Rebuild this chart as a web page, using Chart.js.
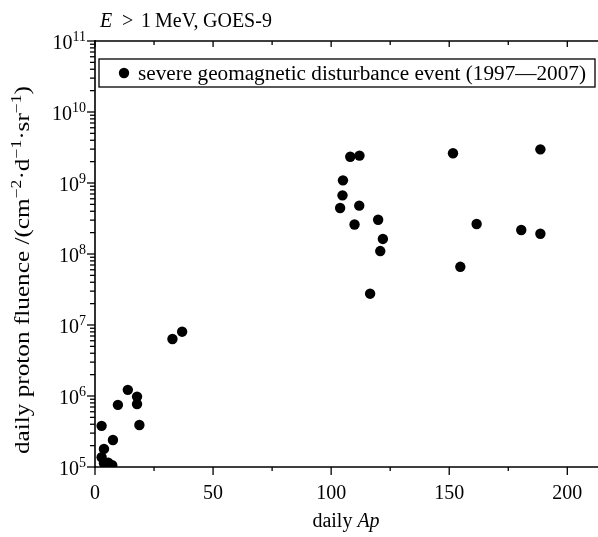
<!DOCTYPE html>
<html>
<head>
<meta charset="utf-8">
<script src="https://cdn.jsdelivr.net/npm/chart.js@4.4.1/dist/chart.umd.min.js"></script>
<style>
  html, body { margin: 0; padding: 0; background: #fff; }
  #wrap { width: 598px; height: 537px; }
</style>
</head>
<body>
<div id="wrap"><canvas id="fluenceChart" width="598" height="537"></canvas></div>
<script>
// daily Ap vs daily proton fluence, E > 1 MeV, GOES-9
const apValues = [2.8, 3.8, 5.6, 7.3, 3.8, 7.6, 2.8, 18.8, 9.7, 17.8, 17.8, 13.9,
    32.8, 36.9,
    103.8, 104.8, 105.0, 108.1, 112.0, 111.9, 109.9, 116.5, 119.9, 120.8, 121.9,
    151.6, 154.7, 161.6, 180.5, 188.6, 188.6];
const fluenceValues = [1.37e5, 1.13e5, 1.15e5, 1.06e5, 1.8e5, 2.4e5, 3.8e5, 3.9e5, 7.5e5, 7.7e5, 9.8e5, 1.22e6,
    6.35e6, 8.05e6,
    4.45e8, 6.7e8, 1.09e9, 2.34e9, 2.43e9, 4.8e8, 2.6e8, 2.76e7, 3.04e8, 1.1e8, 1.63e8,
    2.62e9, 6.6e7, 2.65e8, 2.18e8, 2.98e9, 1.93e8];
const xTickValues = [0, 50, 100, 150, 200];
const yExponents = [5, 6, 7, 8, 9, 10, 11];
const seriesLabel = 'severe geomagnetic disturbance event (1997\u20142007)';

const FONT = '"Liberation Serif", "Times New Roman", serif';

// draw a run of text pieces (some italic / superscript) from x, y (baseline)
function richWidth(ctx, parts, size) {
    let w = 0;
    parts.forEach(p => {
        ctx.font = (p.italic ? 'italic ' : '') + (p.sup ? size * 0.7 : size) + 'px ' + FONT;
        w += ctx.measureText(p.t).width;
    });
    return w;
}
function drawRich(ctx, parts, x, y, size) {
    parts.forEach(p => {
        ctx.font = (p.italic ? 'italic ' : '') + (p.sup ? size * 0.7 : size) + 'px ' + FONT;
        ctx.fillText(p.t, x, p.sup ? y - size * 0.42 : y);
        x += ctx.measureText(p.t).width;
    });
}

const frame = {
    id: 'frame',
    afterDatasetsDraw(chart) {
        const { ctx, chartArea: a, scales: { x, y } } = chart;
        ctx.save();
        ctx.strokeStyle = '#000';
        ctx.fillStyle = '#000';
        ctx.textAlign = 'left';
        ctx.textBaseline = 'alphabetic';

        // axis lines
        ctx.lineWidth = 1.6;
        ctx.beginPath();
        ctx.moveTo(a.left, a.top); ctx.lineTo(a.right, a.top);
        ctx.moveTo(a.left, a.top - 1); ctx.lineTo(a.left, a.bottom + 1);
        ctx.moveTo(a.left, a.bottom); ctx.lineTo(a.right, a.bottom);
        ctx.stroke();

        // x ticks (every 25, labels every 50)
        ctx.lineWidth = 1.3;
        for (let v = 0; v <= x.max; v += 25) {
            const px = x.getPixelForValue(v);
            const major = v % 50 === 0;
            ctx.beginPath();
            ctx.moveTo(px, a.bottom); ctx.lineTo(px, a.bottom + (major ? 8 : 4));
            ctx.moveTo(px, a.top); ctx.lineTo(px, a.top + (major ? 6 : 4));
            ctx.stroke();
        }
        ctx.font = '20px ' + FONT;
        ctx.textAlign = 'center';
        xTickValues.forEach(v => ctx.fillText(String(v), x.getPixelForValue(v), a.bottom + 32));

        // y ticks (decades + minor)
        yExponents.forEach(n => {
            for (let m = 1; m <= 9; m++) {
                const val = m * Math.pow(10, n);
                if (val > y.max) break;
                const py = y.getPixelForValue(val);
                ctx.beginPath();
                ctx.moveTo(a.left, py); ctx.lineTo(a.left - (m === 1 ? 8 : 5), py);
                ctx.stroke();
            }
        });
        ctx.textAlign = 'left';
        yExponents.forEach(n => {
            const py = y.getPixelForValue(Math.pow(10, n));
            const parts = [{ t: '10' }, { t: String(n), sup: true }];
            const w = richWidth(ctx, parts, 20);
            drawRich(ctx, parts, 86 - w, py + 8, 20);
        });

        // title
        drawRich(ctx, [{ t: 'E', italic: true }], 100, 27, 20);
        drawRich(ctx, [{ t: '>' }], 122, 27, 20);
        drawRich(ctx, [{ t: '1' }], 141, 27, 20);
        drawRich(ctx, [{ t: 'MeV,' }], 155, 27, 20);
        drawRich(ctx, [{ t: 'GOES-9' }], 203, 27, 20);

        // legend box
        ctx.lineWidth = 1.3;
        ctx.fillStyle = '#fff';
        ctx.fillRect(99, 59, 496, 28);
        ctx.strokeRect(99, 59, 496, 28);
        ctx.fillStyle = '#000';
        ctx.beginPath();
        ctx.arc(124, 73, 5.2, 0, Math.PI * 2);
        ctx.fill();
        ctx.font = '20px ' + FONT;
        const lw = ctx.measureText(seriesLabel).width;
        ctx.save();
        ctx.translate(138, 80);
        ctx.scale(448 / lw, 1);
        ctx.fillText(seriesLabel, 0, 0);
        ctx.restore();

        // x axis title
        const xParts = [{ t: 'daily ' }, { t: 'Ap', italic: true }];
        const xw = richWidth(ctx, xParts, 20);
        drawRich(ctx, xParts, 346 - xw / 2, 527, 20);

        // y axis title
        const yParts = [{ t: 'daily proton fluence /(cm' }, { t: '\u22122', sup: true }, { t: '\u00b7d' },
            { t: '\u22121', sup: true }, { t: '\u00b7sr' }, { t: '\u22121', sup: true }, { t: ')' }];
        const yw = richWidth(ctx, yParts, 20);
        ctx.save();
        ctx.translate(29, 270);
        ctx.rotate(-Math.PI / 2);
        ctx.scale(368 / yw, 1);
        drawRich(ctx, yParts, -yw / 2, 0, 20);
        ctx.restore();

        ctx.restore();
    }
};

const ctx = document.getElementById('fluenceChart').getContext('2d');
new Chart(ctx, {
    type: 'scatter',
    data: {
        datasets: [{
            label: seriesLabel,
            data: apValues.map((v, i) => ({ x: v, y: fluenceValues[i] })),
            backgroundColor: '#000',
            borderWidth: 0,
            pointRadius: 5.2,
            clip: 0
        }]
    },
    options: {
        responsive: false,
        animation: false,
        layout: { autoPadding: false, padding: { left: 95, top: 41, right: 0, bottom: 70 } },
        scales: {
            x: { type: 'linear', min: 0, max: 213, display: false },
            y: { type: 'logarithmic', min: 1e5, max: 1e11, display: false }
        },
        plugins: {
            legend: { display: false },
            tooltip: { enabled: false }
        }
    },
    plugins: [frame]
});
</script>
</body>
</html>
